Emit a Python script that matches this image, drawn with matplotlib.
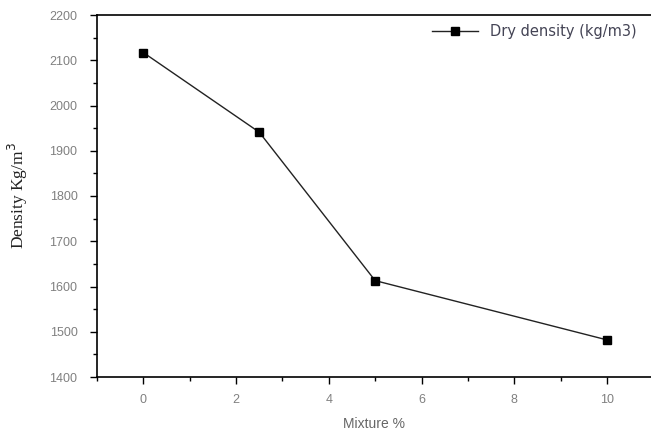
import matplotlib
matplotlib.use("Agg")
import matplotlib.pyplot as plt
from matplotlib.ticker import MultipleLocator

mixture = [0, 2.5, 5, 10]
density = [2117, 1941, 1613, 1482]
series_label = "Dry density (kg/m3)"
x_label = "Mixture %"
y_label = "Density Kg/m$^3$"

fig = plt.figure(figsize=(6.51, 4.33), dpi=100)
ax = fig.add_axes([97/651, 1 - 377/433, 1 - 97/651, (377 - 15)/433])

ax.plot(mixture, density, color="#222222", lw=1.0, marker="s", ms=6.0,
        mfc="black", mec="black", label=series_label)

ax.set_xlim(-1, 10.95)
ax.set_ylim(1400, 2200)
ax.xaxis.set_major_locator(MultipleLocator(2))
ax.xaxis.set_minor_locator(MultipleLocator(1))
ax.yaxis.set_major_locator(MultipleLocator(100))
ax.yaxis.set_minor_locator(MultipleLocator(50))
ax.tick_params(which="both", direction="out", color="black", width=1.0,
               labelcolor="#808080", labelsize=9)
ax.tick_params(which="major", length=5)
ax.tick_params(which="minor", length=3)
ax.tick_params(axis="y", which="major", pad=9)
ax.tick_params(axis="x", which="major", pad=7)
for lab in ax.get_xticklabels() + ax.get_yticklabels():
    lab.set_family("Liberation Sans")
ax.spines["right"].set_visible(False)
for s in ["left", "bottom", "top"]:
    ax.spines[s].set_linewidth(1.2)

ax.set_xlabel(x_label, family="Liberation Sans", fontsize=10, color="#666666", labelpad=8)
ax.set_ylabel(y_label, family="Liberation Serif", fontsize=12.5, color="#222222", labelpad=14)

leg = ax.legend(loc="upper right", frameon=False, prop={"family": "DejaVu Sans", "size": 10.5},
                handlelength=3.2, handletextpad=0.8, borderaxespad=0.2,
                bbox_to_anchor=(0.99, 1.0))
for t in leg.get_texts():
    t.set_color("#444455")

fig.savefig("out.png", dpi=100)
